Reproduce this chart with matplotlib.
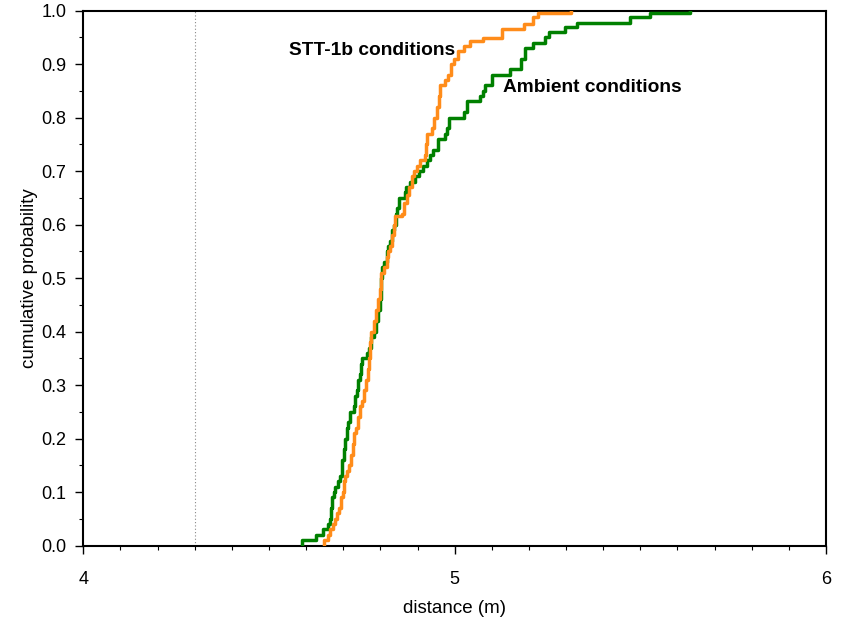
import matplotlib.pyplot as plt
from matplotlib.ticker import MultipleLocator

plt.rcParams['font.family'] = ['Liberation Sans', 'DejaVu Sans']

# ambient conditions: step positions (m) and cumulative probability after the step
amb_x = [4.589, 4.589, 4.627, 4.646, 4.659, 4.665, 4.668, 4.670, 4.674, 4.677,
         4.686, 4.692, 4.696, 4.698, 4.701, 4.705, 4.709, 4.713, 4.719, 4.728,
         4.732, 4.736, 4.740, 4.744, 4.747, 4.751, 4.764, 4.770, 4.775, 4.783,
         4.789, 4.794, 4.799, 4.802, 4.803, 4.805, 4.810, 4.817, 4.821, 4.826,
         4.832, 4.837, 4.841, 4.845, 4.849, 4.867, 4.869, 4.880, 4.894, 4.904,
         4.915, 4.926, 4.934, 4.942, 4.956, 4.974, 4.980, 4.985, 5.026, 5.032,
         5.069, 5.077, 5.082, 5.100, 5.149, 5.180, 5.190, 5.211, 5.244, 5.253,
         5.297, 5.330, 5.473, 5.527, 5.634]
amb_p = [0.0, 0.01, 0.02, 0.03, 0.04, 0.05, 0.07, 0.09, 0.10, 0.11,
         0.12, 0.13, 0.14, 0.16, 0.18, 0.20, 0.22, 0.23, 0.25, 0.26,
         0.28, 0.29, 0.31, 0.32, 0.34, 0.35, 0.36, 0.37, 0.39, 0.40,
         0.42, 0.44, 0.46, 0.48, 0.50, 0.52, 0.53, 0.55, 0.56, 0.57,
         0.59, 0.60, 0.62, 0.63, 0.65, 0.66, 0.67, 0.68, 0.69, 0.70,
         0.71, 0.72, 0.73, 0.74, 0.76, 0.77, 0.78, 0.80, 0.81, 0.83,
         0.84, 0.85, 0.86, 0.88, 0.89, 0.91, 0.93, 0.94, 0.95, 0.96,
         0.97, 0.977, 0.987, 0.995, 1.0]

# STT-1b conditions
stt_x = [4.647, 4.647, 4.659, 4.665, 4.673, 4.678, 4.684, 4.689, 4.693, 4.700,
         4.702, 4.705, 4.710, 4.715, 4.721, 4.725, 4.728, 4.735, 4.740, 4.746,
         4.751, 4.755, 4.762, 4.766, 4.770, 4.772, 4.775, 4.783, 4.789, 4.794,
         4.798, 4.802, 4.810, 4.817, 4.821, 4.826, 4.832, 4.836, 4.840, 4.857,
         4.864, 4.871, 4.878, 4.884, 4.891, 4.898, 4.907, 4.921, 4.923, 4.926,
         4.939, 4.945, 4.953, 4.957, 4.960, 4.974, 4.982, 4.990, 4.998, 5.010,
         5.024, 5.042, 5.077, 5.128, 5.186, 5.211, 5.225, 5.314]
stt_p = [0.0, 0.01, 0.02, 0.03, 0.04, 0.05, 0.06, 0.07, 0.09, 0.10,
         0.12, 0.13, 0.14, 0.15, 0.17, 0.19, 0.21, 0.22, 0.24, 0.26,
         0.27, 0.29, 0.31, 0.33, 0.35, 0.38, 0.40, 0.42, 0.44, 0.46,
         0.48, 0.51, 0.52, 0.54, 0.55, 0.56, 0.58, 0.60, 0.615, 0.62,
         0.64, 0.655, 0.67, 0.69, 0.70, 0.71, 0.72, 0.73, 0.75, 0.77,
         0.78, 0.80, 0.82, 0.84, 0.86, 0.87, 0.88, 0.90, 0.91, 0.925,
         0.934, 0.943, 0.949, 0.965, 0.974, 0.987, 0.996, 1.0]

ref_x = 4.3

fig = plt.figure(figsize=(8.41, 6.18), dpi=100)
ax = fig.add_axes([0.099, 0.1173, 0.8832, 0.8657])

ax.axvline(ref_x, color='#888888', lw=0.8, ls=(0, (1, 2)))
ax.plot(amb_x, amb_p, drawstyle='steps-post', color='#008000', lw=2.5, zorder=3)
ax.plot(stt_x, stt_p, drawstyle='steps-post', color='#ff8c1a', lw=2.5, zorder=4)

ax.text(4.555, 0.926, 'STT-1b conditions', fontsize=13.8, fontweight='bold', va='center')
ax.text(5.131, 0.857, 'Ambient conditions', fontsize=13.8, fontweight='bold', va='center')

ax.set_xlim(4, 6)
ax.set_ylim(0, 1)
ax.xaxis.set_major_locator(MultipleLocator(1))
ax.xaxis.set_minor_locator(MultipleLocator(0.1))
ax.yaxis.set_major_locator(MultipleLocator(0.1))
ax.yaxis.set_minor_locator(MultipleLocator(0.05))
ax.xaxis.set_major_formatter(plt.FuncFormatter(lambda v, p: '%d' % v))
ax.yaxis.set_major_formatter(plt.FuncFormatter(lambda v, p: '%.1f' % v))
ax.tick_params(axis='x', which='major', direction='out', length=6, width=1, labelsize=13, pad=12)
ax.tick_params(axis='x', which='minor', direction='out', length=3, width=0.8)
ax.tick_params(axis='y', which='major', direction='out', length=6, width=1, labelsize=13, pad=6)
ax.tick_params(axis='y', which='minor', direction='out', length=3, width=0.8)
for s in ax.spines.values():
    s.set_linewidth(1.5)

ax.set_xlabel('distance (m)', fontsize=13.5, va='center')
ax.set_ylabel('cumulative probability', fontsize=13.5, va='center')
ax.xaxis.set_label_coords(0.5, -0.117)
ax.yaxis.set_label_coords(-0.072, 0.5)

fig.savefig('out.png', dpi=100)
